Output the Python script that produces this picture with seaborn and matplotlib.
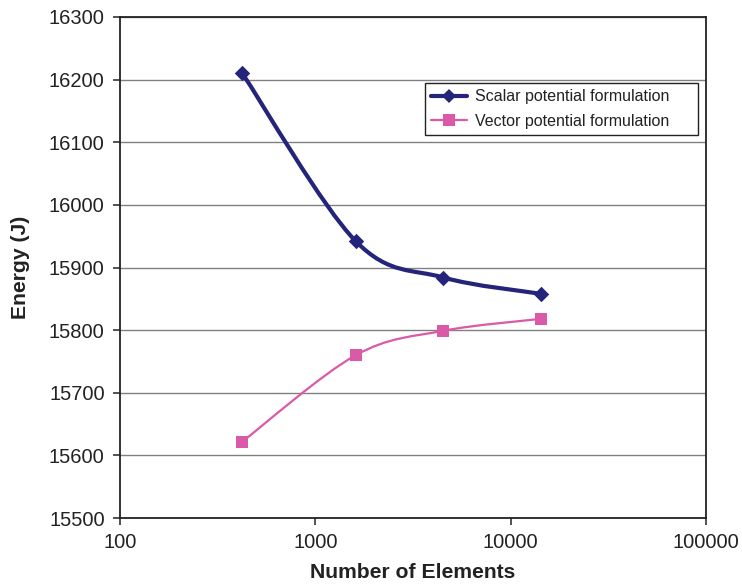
import numpy as np
import matplotlib
matplotlib.use("Agg")
import matplotlib.pyplot as plt
import seaborn as sns
import pandas as pd
from matplotlib.path import Path
from matplotlib.patches import PathPatch
from matplotlib.lines import Line2D
from matplotlib.ticker import NullLocator, FixedLocator

# ---- data ----
elements = [423, 1610, 4530, 14250]
scalar_energy = [16210, 15942, 15884, 15858]
vector_energy = [15622, 15760, 15799, 15818]
series_names = ["Scalar potential formulation", "Vector potential formulation"]
x_ticks = [100, 1000, 10000, 100000]
y_ticks = [15500, 15600, 15700, 15800, 15900, 16000, 16100, 16200, 16300]

scalar_color = "#23247a"
vector_color = "#db5aa8"

sns.set_style("white")
plt.rcParams['font.family'] = ['Liberation Sans', 'DejaVu Sans']

fig = plt.figure(figsize=(7.42, 5.85), dpi=100)
ax = fig.add_axes([120/742, 1-518/585, 586/742, 501/585])

df = pd.DataFrame({
    "elements": elements * 2,
    "energy": scalar_energy + vector_energy,
    "series": [series_names[0]] * len(elements) + [series_names[1]] * len(elements),
})


def smooth_path(xs, ys):
    """Excel-like smoothed line as cubic Bezier through the data points (in log-x space)."""
    pts = np.column_stack([np.log10(np.asarray(xs, float)), np.asarray(ys, float)])
    n = len(pts)
    verts = [pts[0]]
    codes = [Path.MOVETO]
    for i in range(n - 1):
        p0 = pts[i - 1] if i > 0 else pts[i]
        p1 = pts[i]
        p2 = pts[i + 1]
        p3 = pts[i + 2] if i + 2 < n else pts[i + 1]
        c1 = p1 + (p2 - p0) / 6.0
        c2 = p2 - (p3 - p1) / 6.0
        verts += [c1, c2, p2]
        codes += [Path.CURVE4] * 3
    verts = np.array(verts)
    verts[:, 0] = 10 ** verts[:, 0]
    return Path(verts, codes)


ax.set_xscale("log")
ax.set_xlim(100, 100000)
ax.set_ylim(15500, 16300)

# smoothed lines
ax.add_patch(PathPatch(smooth_path(elements, scalar_energy), facecolor="none",
                       edgecolor=scalar_color, lw=3.0, capstyle="round",
                       joinstyle="round", zorder=2))
ax.add_patch(PathPatch(smooth_path(elements, vector_energy), facecolor="none",
                       edgecolor=vector_color, lw=1.6, capstyle="round",
                       joinstyle="round", zorder=2))

# markers
sns.scatterplot(data=df[df.series == series_names[0]], x="elements", y="energy",
                marker="D", s=62, color=scalar_color, edgecolor=scalar_color,
                linewidth=0, ax=ax, legend=False, zorder=3)
sns.scatterplot(data=df[df.series == series_names[1]], x="elements", y="energy",
                marker="s", s=66, color=vector_color, edgecolor=vector_color,
                linewidth=0, ax=ax, legend=False, zorder=3)

ax.set_xlim(100, 100000)
ax.set_ylim(15500, 16300)

ax.xaxis.set_major_locator(FixedLocator(x_ticks))
ax.xaxis.set_minor_locator(NullLocator())
ax.set_xticklabels([str(t) for t in x_ticks])
ax.set_yticks(y_ticks)
ax.set_yticklabels([str(t) for t in y_ticks])

ax.yaxis.grid(True, color="#808080", lw=1.0)
ax.xaxis.grid(False)
ax.set_axisbelow(True)

for sp in ax.spines.values():
    sp.set_color("#222222")
    sp.set_linewidth(1.3)
    sp.set_visible(True)

ax.tick_params(axis="both", which="major", direction="out", length=5, width=1.1,
               color="#222222", labelsize=14.5, labelcolor="#222222", pad=6,
               bottom=True, left=True, top=False, right=False)

ax.set_xlabel("Number of Elements", fontsize=15.2, fontweight="bold",
              color="#222222", labelpad=8)
ax.set_ylabel("Energy (J)", fontsize=15.2, fontweight="bold", color="#222222")
ax.yaxis.set_label_coords(-0.153, 0.5)

handles = [
    Line2D([], [], color=scalar_color, lw=3.0, marker="D", markersize=7.5,
           markeredgewidth=0),
    Line2D([], [], color=vector_color, lw=1.6, marker="s", markersize=8,
           markeredgewidth=0),
]
x0 = (425 - 120) / 586
y1 = (518 - 83) / 501
w = 273 / 586
h = 51 / 501
leg = ax.legend(handles, series_names, loc="upper left",
                bbox_to_anchor=(x0, y1 - h, w, h), mode="expand",
                borderaxespad=0, fancybox=False, framealpha=1,
                edgecolor="#222222", fontsize=11.5, handlelength=2.2,
                handletextpad=0.55, labelspacing=0.6, borderpad=0.4)
leg.get_frame().set_linewidth(1.0)
for t in leg.get_texts():
    t.set_color("#222222")

fig.savefig("out.png", dpi=100)
